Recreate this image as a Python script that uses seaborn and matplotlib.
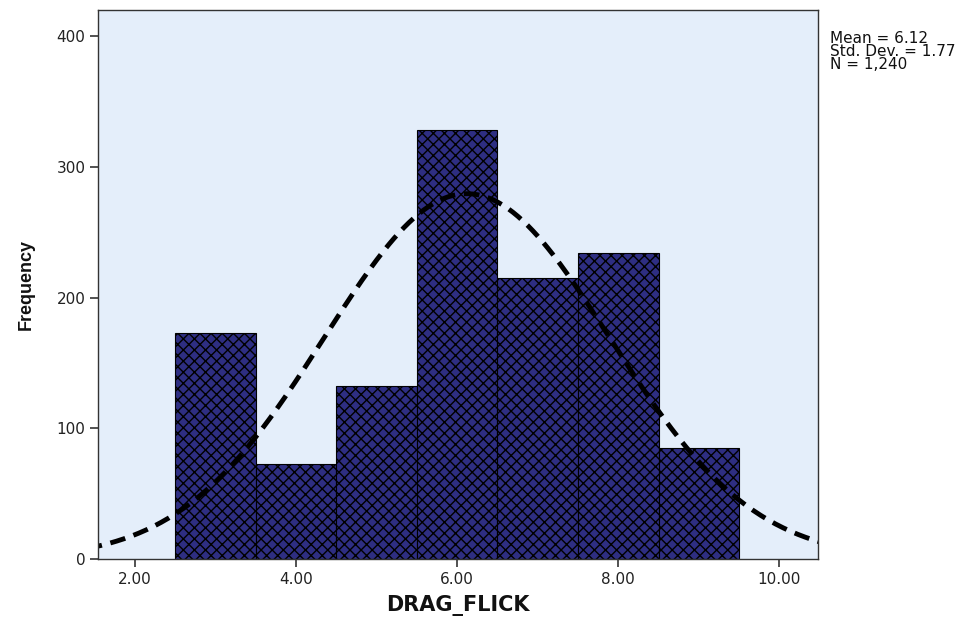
import numpy as np
import pandas as pd
import matplotlib
matplotlib.use("Agg")
import matplotlib.pyplot as plt
import seaborn as sns

# Data
bin_centers = [3, 4, 5, 6, 7, 8, 9]
counts = [173, 73, 132, 328, 215, 234, 85]
bin_edges = [2.5, 3.5, 4.5, 5.5, 6.5, 7.5, 8.5, 9.5]
mean_val = 6.12
std_val = 1.77
n_val = 1240
x_ticks = [2, 4, 6, 8, 10]
x_tick_labels = ["2.00", "4.00", "6.00", "8.00", "10.00"]
y_ticks = [0, 100, 200, 300, 400]

sns.set_theme(style="white")
plt.rcParams['font.family'] = ['DejaVu Sans']
plt.rcParams['hatch.linewidth'] = 1.0
plt.rcParams['hatch.color'] = 'black'

fig = plt.figure(figsize=(9.71, 6.19), dpi=100)
ax = fig.add_axes([98/971, 60/619, 720/971, 549/619])
ax.set_facecolor('#e4eefa')

df = pd.DataFrame({'DRAG_FLICK': bin_centers, 'count': counts})
sns.histplot(data=df, x='DRAG_FLICK', weights='count', bins=bin_edges,
             color='#2e2e82', alpha=1, edgecolor='black', linewidth=0.8, ax=ax)
for p in ax.patches:
    p.set_hatch('xxx')
    p.set_edgecolor('black')

xs = np.linspace(1.4, 10.6, 300)
binw = 1.0
ys = n_val * binw / (std_val * np.sqrt(2 * np.pi)) * np.exp(-0.5 * ((xs - mean_val) / std_val) ** 2)
curve = pd.DataFrame({'x': xs, 'y': ys})
n_before = len(ax.lines)
sns.lineplot(data=curve, x='x', y='y', color='black', linewidth=3.5, ax=ax,
             dashes=False)
for ln in ax.lines[n_before:]:
    ln.set_linestyle((0, (3.2, 1.8)))
    ln.set_dash_capstyle('butt')

ax.set_xlim(1.54, 10.48)
ax.set_ylim(0, 420)
ax.set_xticks(x_ticks)
ax.set_xticklabels(x_tick_labels)
ax.set_yticks(y_ticks)
ax.tick_params(axis='both', direction='out', length=6, width=1.2, color='#333333',
               labelsize=11, labelcolor='#222222', bottom=True, left=True, pad=3)
for s in ax.spines.values():
    s.set_color('#333333')
    s.set_linewidth(1.0)

ax.set_xlabel('DRAG_FLICK', fontsize=15, fontweight='bold', labelpad=6,
              color='#111111')
ax.set_ylabel('Frequency', fontsize=13, fontweight='bold', labelpad=16,
              family=['Liberation Sans Narrow', 'Liberation Sans', 'DejaVu Sans'],
              color='#111111')

fig.text(830/971, 1 - 31/619, 'Mean = 6.12\nStd. Dev. = 1.77\nN = 1,240',
         fontsize=11, va='top', ha='left', linespacing=0.85, color='#111111')

fig.savefig('out.png', dpi=100, facecolor='white')
